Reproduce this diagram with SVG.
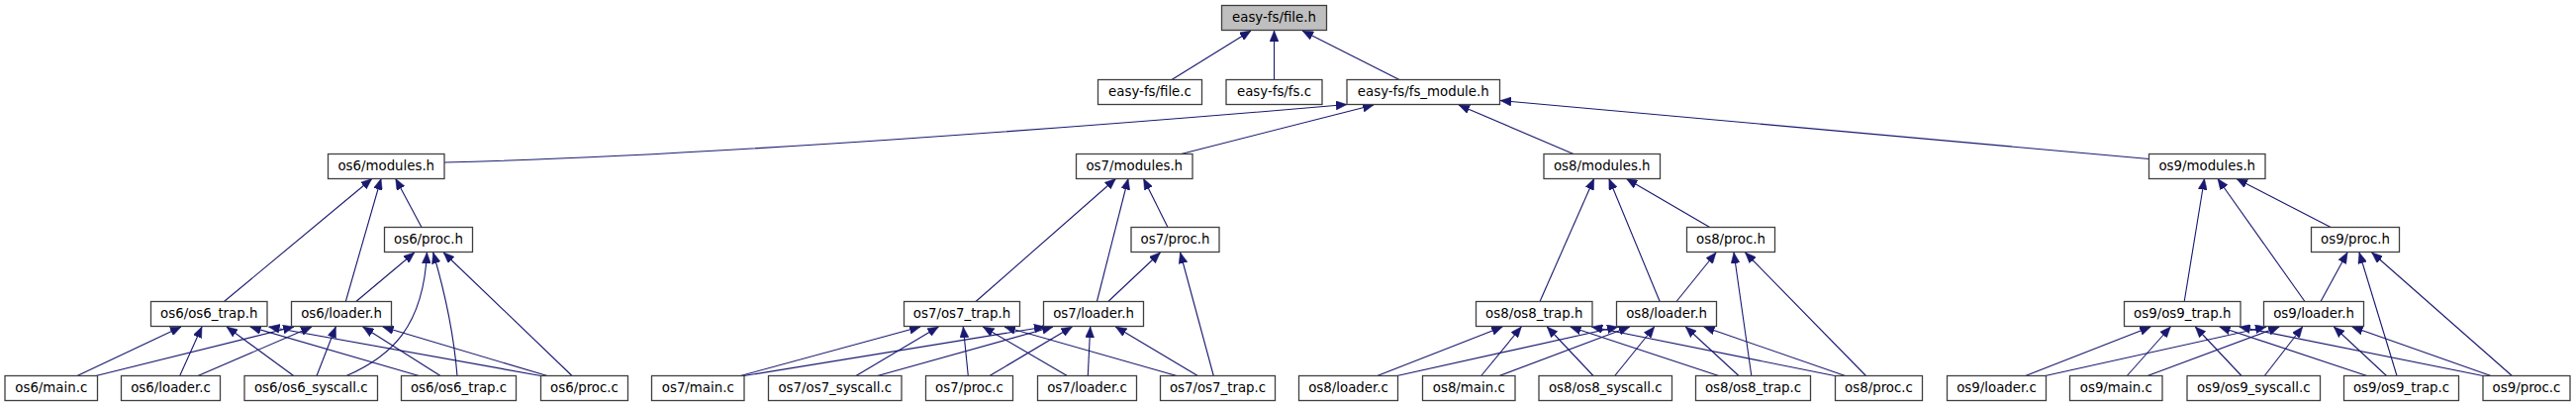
<svg xmlns="http://www.w3.org/2000/svg" width="2603" height="411" viewBox="0 0 2603 411">
<style>
.n rect{fill:#ffffff;stroke:#404040;stroke-width:1.3}
.n.root rect{fill:#bfbfbf}
.n text{font-family:"DejaVu Sans","Liberation Sans",sans-serif;font-size:13.33px;text-anchor:middle;fill:#000}
#edges path{fill:none;stroke:#191970;stroke-width:1.1;marker-end:url(#ah)}
</style>
<defs>
<marker id="ah" markerUnits="userSpaceOnUse" viewBox="0 0 11 9" markerWidth="11" markerHeight="9" refX="11" refY="4.5" orient="auto">
<path d="M0,0 L11,4.5 L0,9 z" fill="#191970" stroke="#191970" stroke-width="0.5"/>
</marker>
</defs>
<rect width="2603" height="411" fill="#ffffff"/>
<g id="edges">
<path d="M1184,80.5 L1264,31"/>
<path d="M1287.5,80.5 L1287.5,31"/>
<path d="M1414,80.5 L1316,31"/>
<path d="M449,164 C700,158 1100,128 1361,105.5"/>
<path d="M1193.5,155.5 L1388,106"/>
<path d="M1590,155.5 L1474,106"/>
<path d="M2171.5,160.5 L1516,101.5"/>
<!-- os6 -->
<path d="M226.4,304.5 L375.8,180.5"/>
<path d="M349.3,304.5 L385,180.5"/>
<path d="M426,229.5 L399.8,180.5"/>
<path d="M359.8,304.5 L418.8,255"/>
<path d="M350,379.5 C395,360 428,330 431.4,255"/>
<path d="M462,379.5 C458,330 448,290 437.7,255"/>
<path d="M578,379.5 L448.2,255"/>
<path d="M78,379.5 L183,330"/>
<path d="M97,379.5 L297,330"/>
<path d="M181.7,379.5 L204,330"/>
<path d="M200,379.5 L315,330"/>
<path d="M296.7,379.5 L229,330"/>
<path d="M320,379.5 L339.3,330"/>
<path d="M423.3,379.5 L252.7,330"/>
<path d="M445,379.5 L366.7,330"/>
<path d="M546.5,379.5 L271.5,330"/>
<path d="M553,379.5 L386.7,330"/>
<!-- os7 -->
<path d="M986,304.5 L1127.4,180.5"/>
<path d="M1108.4,304.5 L1140,180.5"/>
<path d="M1180,229.5 L1155.6,180.5"/>
<path d="M1119.8,304.5 L1172.4,255"/>
<path d="M1226.3,379.5 L1192.6,255"/>
<path d="M748.3,379.5 L930,330"/>
<path d="M751.7,379.5 L1056,330"/>
<path d="M865,379.5 L948.3,330"/>
<path d="M886.7,379.5 L1064,330"/>
<path d="M978.3,379.5 L973.3,330"/>
<path d="M1000,379.5 L1083.3,330"/>
<path d="M1078.3,379.5 L993.3,330"/>
<path d="M1099.3,379.5 L1101.7,330"/>
<path d="M1189,379.5 L1015,330"/>
<path d="M1210.3,379.5 L1127.3,330"/>
<!-- os8 -->
<path d="M1556,304.5 L1610.7,180.5"/>
<path d="M1677.2,304.5 L1625.9,180.5"/>
<path d="M1727.7,229.5 L1643.5,180.5"/>
<path d="M1694,304.5 L1734,255"/>
<path d="M1769.8,379.5 L1752,255"/>
<path d="M1885.5,379.5 L1763.5,255"/>
<path d="M1391.7,379.5 L1518.3,330"/>
<path d="M1496.7,379.5 L1537.3,330"/>
<path d="M1610,379.5 L1563.3,330"/>
<path d="M1736.7,379.5 L1586.7,330"/>
<path d="M1854,379.5 L1608.3,330"/>
<path d="M1411.7,379.5 L1635,330"/>
<path d="M1515,379.5 L1646.7,330"/>
<path d="M1631.7,379.5 L1671.7,330"/>
<path d="M1757,379.5 L1703.3,330"/>
<path d="M1864.5,379.5 L1721.7,330"/>
<!-- os9 -->
<path d="M2207.2,304.5 L2227.5,180.5"/>
<path d="M2329,304.5 L2241,180.5"/>
<path d="M2355.2,229.5 L2260,180.5"/>
<path d="M2345,304.5 L2372,255"/>
<path d="M2422,379.5 L2384,255"/>
<path d="M2538.3,379.5 L2396.7,255"/>
<path d="M2046.7,379.5 L2173.3,330"/>
<path d="M2149.3,379.5 L2193.3,330"/>
<path d="M2265,379.5 L2218.3,330"/>
<path d="M2391.7,379.5 L2242.7,330"/>
<path d="M2509,379.5 L2262.7,330"/>
<path d="M2066.7,379.5 L2290,330"/>
<path d="M2170,379.5 L2303.3,330"/>
<path d="M2288.3,379.5 L2326.7,330"/>
<path d="M2411.5,379.5 L2358.3,330"/>
<path d="M2517,379.5 L2376.7,330"/>
</g>
<g id="file_h" class="n root"><rect x="1234.5" y="5.5" width="106" height="25"/><text x="1287.5" y="22">easy-fs/file.h</text></g>
<g id="file_c" class="n"><rect x="1109.5" y="80.5" width="105" height="25"/><text x="1162" y="97">easy-fs/file.c</text></g>
<g id="fs_c" class="n"><rect x="1239" y="80.5" width="97" height="25"/><text x="1287.5" y="97">easy-fs/fs.c</text></g>
<g id="fs_module_h" class="n"><rect x="1361" y="80.5" width="154.5" height="25"/><text x="1438.25" y="97">easy-fs/fs_module.h</text></g>

<g id="os6_modules_h" class="n"><rect x="331.5" y="155.5" width="117.5" height="25"/><text x="390.25" y="172">os6/modules.h</text></g>
<g id="os7_modules_h" class="n"><rect x="1087.5" y="155.5" width="117.5" height="25"/><text x="1146.25" y="172">os7/modules.h</text></g>
<g id="os8_modules_h" class="n"><rect x="1560" y="155.5" width="117.5" height="25"/><text x="1618.75" y="172">os8/modules.h</text></g>
<g id="os9_modules_h" class="n"><rect x="2171.5" y="155.5" width="117.5" height="25"/><text x="2230.25" y="172">os9/modules.h</text></g>

<g id="os6_proc_h" class="n"><rect x="388.5" y="229.5" width="89" height="25"/><text x="433" y="246">os6/proc.h</text></g>
<g id="os7_proc_h" class="n"><rect x="1143" y="229.5" width="89" height="25"/><text x="1187.5" y="246">os7/proc.h</text></g>
<g id="os8_proc_h" class="n"><rect x="1704.5" y="229.5" width="89" height="25"/><text x="1749" y="246">os8/proc.h</text></g>
<g id="os9_proc_h" class="n"><rect x="2335.5" y="229.5" width="89" height="25"/><text x="2380" y="246">os9/proc.h</text></g>

<g id="os6_trap_h" class="n"><rect x="152.5" y="304.5" width="117.5" height="25"/><text x="211.25" y="321">os6/os6_trap.h</text></g>
<g id="os6_loader_h" class="n"><rect x="294.5" y="304.5" width="101" height="25"/><text x="345" y="321">os6/loader.h</text></g>
<g id="os7_trap_h" class="n"><rect x="913.5" y="304.5" width="117" height="25"/><text x="972" y="321">os7/os7_trap.h</text></g>
<g id="os7_loader_h" class="n"><rect x="1054.5" y="304.5" width="101" height="25"/><text x="1105" y="321">os7/loader.h</text></g>
<g id="os8_trap_h" class="n"><rect x="1491.5" y="304.5" width="117.5" height="25"/><text x="1550.25" y="321">os8/os8_trap.h</text></g>
<g id="os8_loader_h" class="n"><rect x="1633.5" y="304.5" width="101" height="25"/><text x="1684" y="321">os8/loader.h</text></g>
<g id="os9_trap_h" class="n"><rect x="2146.5" y="304.5" width="117.5" height="25"/><text x="2205.25" y="321">os9/os9_trap.h</text></g>
<g id="os9_loader_h" class="n"><rect x="2287.5" y="304.5" width="101" height="25"/><text x="2338" y="321">os9/loader.h</text></g>

<g id="os6_main_c" class="n"><rect x="5" y="379.5" width="93.5" height="25"/><text x="51.75" y="396">os6/main.c</text></g>
<g id="os6_loader_c" class="n"><rect x="122.5" y="379.5" width="100" height="25"/><text x="172.5" y="396">os6/loader.c</text></g>
<g id="os6_syscall_c" class="n"><rect x="247" y="379.5" width="134.5" height="25"/><text x="314.25" y="396">os6/os6_syscall.c</text></g>
<g id="os6_trap_c" class="n"><rect x="405.5" y="379.5" width="116" height="25"/><text x="463.5" y="396">os6/os6_trap.c</text></g>
<g id="os6_proc_c" class="n"><rect x="546.5" y="379.5" width="88" height="25"/><text x="590.5" y="396">os6/proc.c</text></g>

<g id="os7_main_c" class="n"><rect x="658.5" y="379.5" width="93.5" height="25"/><text x="705.25" y="396">os7/main.c</text></g>
<g id="os7_syscall_c" class="n"><rect x="776.5" y="379.5" width="134.5" height="25"/><text x="843.75" y="396">os7/os7_syscall.c</text></g>
<g id="os7_proc_c" class="n"><rect x="935.5" y="379.5" width="88" height="25"/><text x="979.5" y="396">os7/proc.c</text></g>
<g id="os7_loader_c" class="n"><rect x="1048.5" y="379.5" width="100" height="25"/><text x="1098.5" y="396">os7/loader.c</text></g>
<g id="os7_trap_c" class="n"><rect x="1172.5" y="379.5" width="116" height="25"/><text x="1230.5" y="396">os7/os7_trap.c</text></g>

<g id="os8_loader_c" class="n"><rect x="1312.5" y="379.5" width="100" height="25"/><text x="1362.5" y="396">os8/loader.c</text></g>
<g id="os8_main_c" class="n"><rect x="1437.5" y="379.5" width="93.5" height="25"/><text x="1484.25" y="396">os8/main.c</text></g>
<g id="os8_syscall_c" class="n"><rect x="1555" y="379.5" width="134.5" height="25"/><text x="1622.25" y="396">os8/os8_syscall.c</text></g>
<g id="os8_trap_c" class="n"><rect x="1713.5" y="379.5" width="116" height="25"/><text x="1771.5" y="396">os8/os8_trap.c</text></g>
<g id="os8_proc_c" class="n"><rect x="1854.5" y="379.5" width="88" height="25"/><text x="1898.5" y="396">os8/proc.c</text></g>

<g id="os9_loader_c" class="n"><rect x="1967.5" y="379.5" width="100" height="25"/><text x="2017.5" y="396">os9/loader.c</text></g>
<g id="os9_main_c" class="n"><rect x="2091.5" y="379.5" width="93.5" height="25"/><text x="2138.25" y="396">os9/main.c</text></g>
<g id="os9_syscall_c" class="n"><rect x="2210" y="379.5" width="134.5" height="25"/><text x="2277.25" y="396">os9/os9_syscall.c</text></g>
<g id="os9_trap_c" class="n"><rect x="2368.5" y="379.5" width="116" height="25"/><text x="2426.5" y="396">os9/os9_trap.c</text></g>
<g id="os9_proc_c" class="n"><rect x="2509" y="379.5" width="88" height="25"/><text x="2553" y="396">os9/proc.c</text></g>
</svg>
